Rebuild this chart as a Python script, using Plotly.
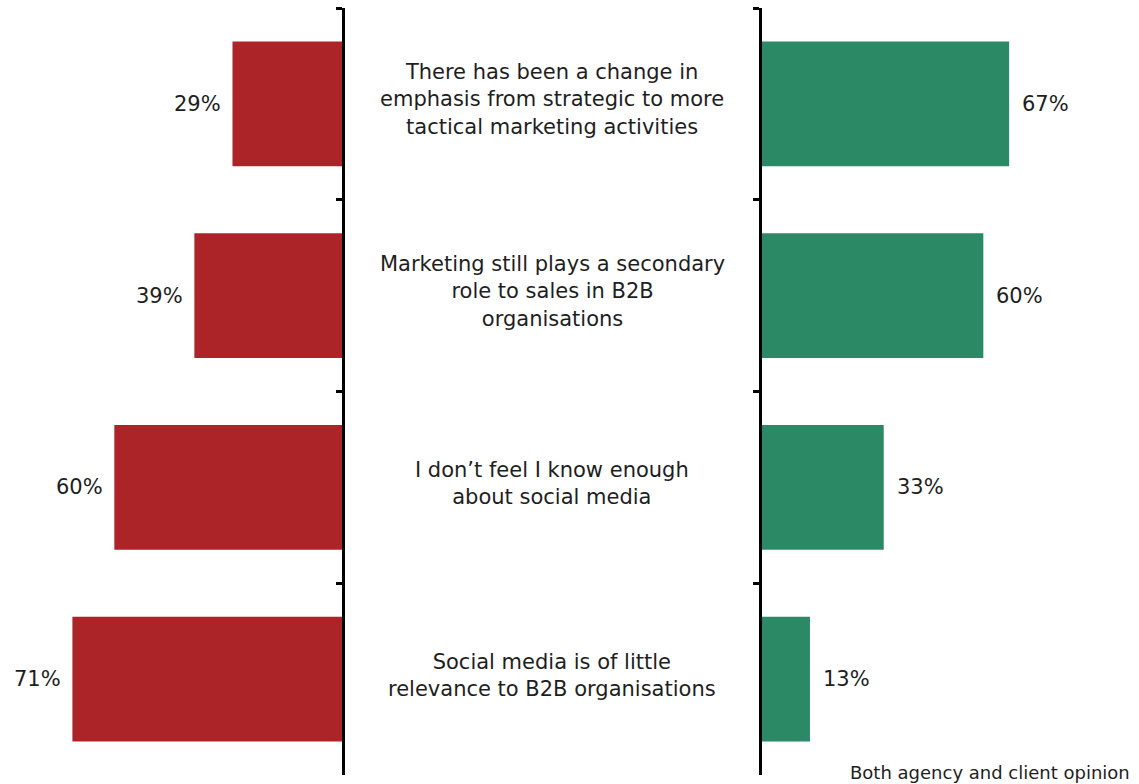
import plotly.graph_objects as go

# Survey statements, one per row (top to bottom)
statements = [
    "There has been a change in<br>emphasis from strategic to more<br>tactical marketing activities",
    "Marketing still plays a secondary<br>role to sales in B2B<br>organisations",
    "I don\u2019t feel I know enough<br>about social media",
    "Social media is of little<br>relevance to B2B organisations",
]
row_keys = ["s1", "s2", "s3", "s4"]

# Share of respondents (%) for each side
agency_pct = [29, 39, 60, 71]
client_pct = [67, 60, 33, 13]

footer_text = "Both agency and client opinion"

RED = "#AD2428"
GREEN = "#2B8A65"
TEXT = "#1e1e1e"
FONT = "DejaVu Sans, Verdana, sans-serif"

LEFT_EDGE = 343 / 1139
RIGHT_START = 762 / 1139

fig = go.Figure()

fig.add_trace(go.Bar(
    x=agency_pct, y=row_keys, orientation="h",
    marker=dict(color=RED, line=dict(width=0)),
    width=0.65, xaxis="x", yaxis="y", hoverinfo="skip",
))
fig.add_trace(go.Bar(
    x=client_pct, y=row_keys, orientation="h",
    marker=dict(color=GREEN, line=dict(width=0)),
    width=0.65, xaxis="x2", yaxis="y2", hoverinfo="skip",
))

annotations = []
for key, v in zip(row_keys, agency_pct):
    annotations.append(dict(
        x=v, y=key, xref="x", yref="y", text=f"{v}%", showarrow=False,
        xanchor="right", yanchor="middle", xshift=-9,
        font=dict(family=FONT, size=21, color=TEXT),
    ))
for key, v in zip(row_keys, client_pct):
    annotations.append(dict(
        x=v, y=key, xref="x2", yref="y2", text=f"{v}%", showarrow=False,
        xanchor="left", yanchor="middle", xshift=11,
        font=dict(family=FONT, size=21, color=TEXT),
    ))
for key, label in zip(row_keys, statements):
    annotations.append(dict(
        x=552 / 1139, y=key, xref="paper", yref="y", text=label,
        showarrow=False, xanchor="center", yanchor="middle", yshift=4,
        align="center", font=dict(family=FONT, size=21, color=TEXT),
    ))
annotations.append(dict(
    x=1132 / 1139, y=0, xref="paper", yref="paper", text=footer_text,
    showarrow=False, xanchor="right", yanchor="middle", yshift=3,
    font=dict(family=FONT, size=18, color=TEXT),
))

axis_common = dict(
    type="category", categoryorder="array", categoryarray=row_keys,
    autorange="reversed", showticklabels=False, showgrid=False,
    zeroline=False, showline=True, linecolor="black", linewidth=2.5,
    tickson="boundaries", ticklen=6, tickwidth=2.5, tickcolor="black",
    ticks="outside", side="left",
)

fig.update_layout(
    width=1139, height=784,
    margin=dict(l=0, r=0, t=8, b=9),
    paper_bgcolor="white", plot_bgcolor="white",
    showlegend=False, barmode="overlay",
    xaxis=dict(domain=[0, LEFT_EDGE], range=[90, 0], visible=False,
               fixedrange=True),
    xaxis2=dict(domain=[RIGHT_START, 1], range=[0, 102.2], visible=False,
                fixedrange=True),
    yaxis=dict(anchor="free", position=LEFT_EDGE, **axis_common),
    yaxis2=dict(anchor="x2", matches="y", **axis_common),
    annotations=annotations,
)

fig.write_html("out.html")
